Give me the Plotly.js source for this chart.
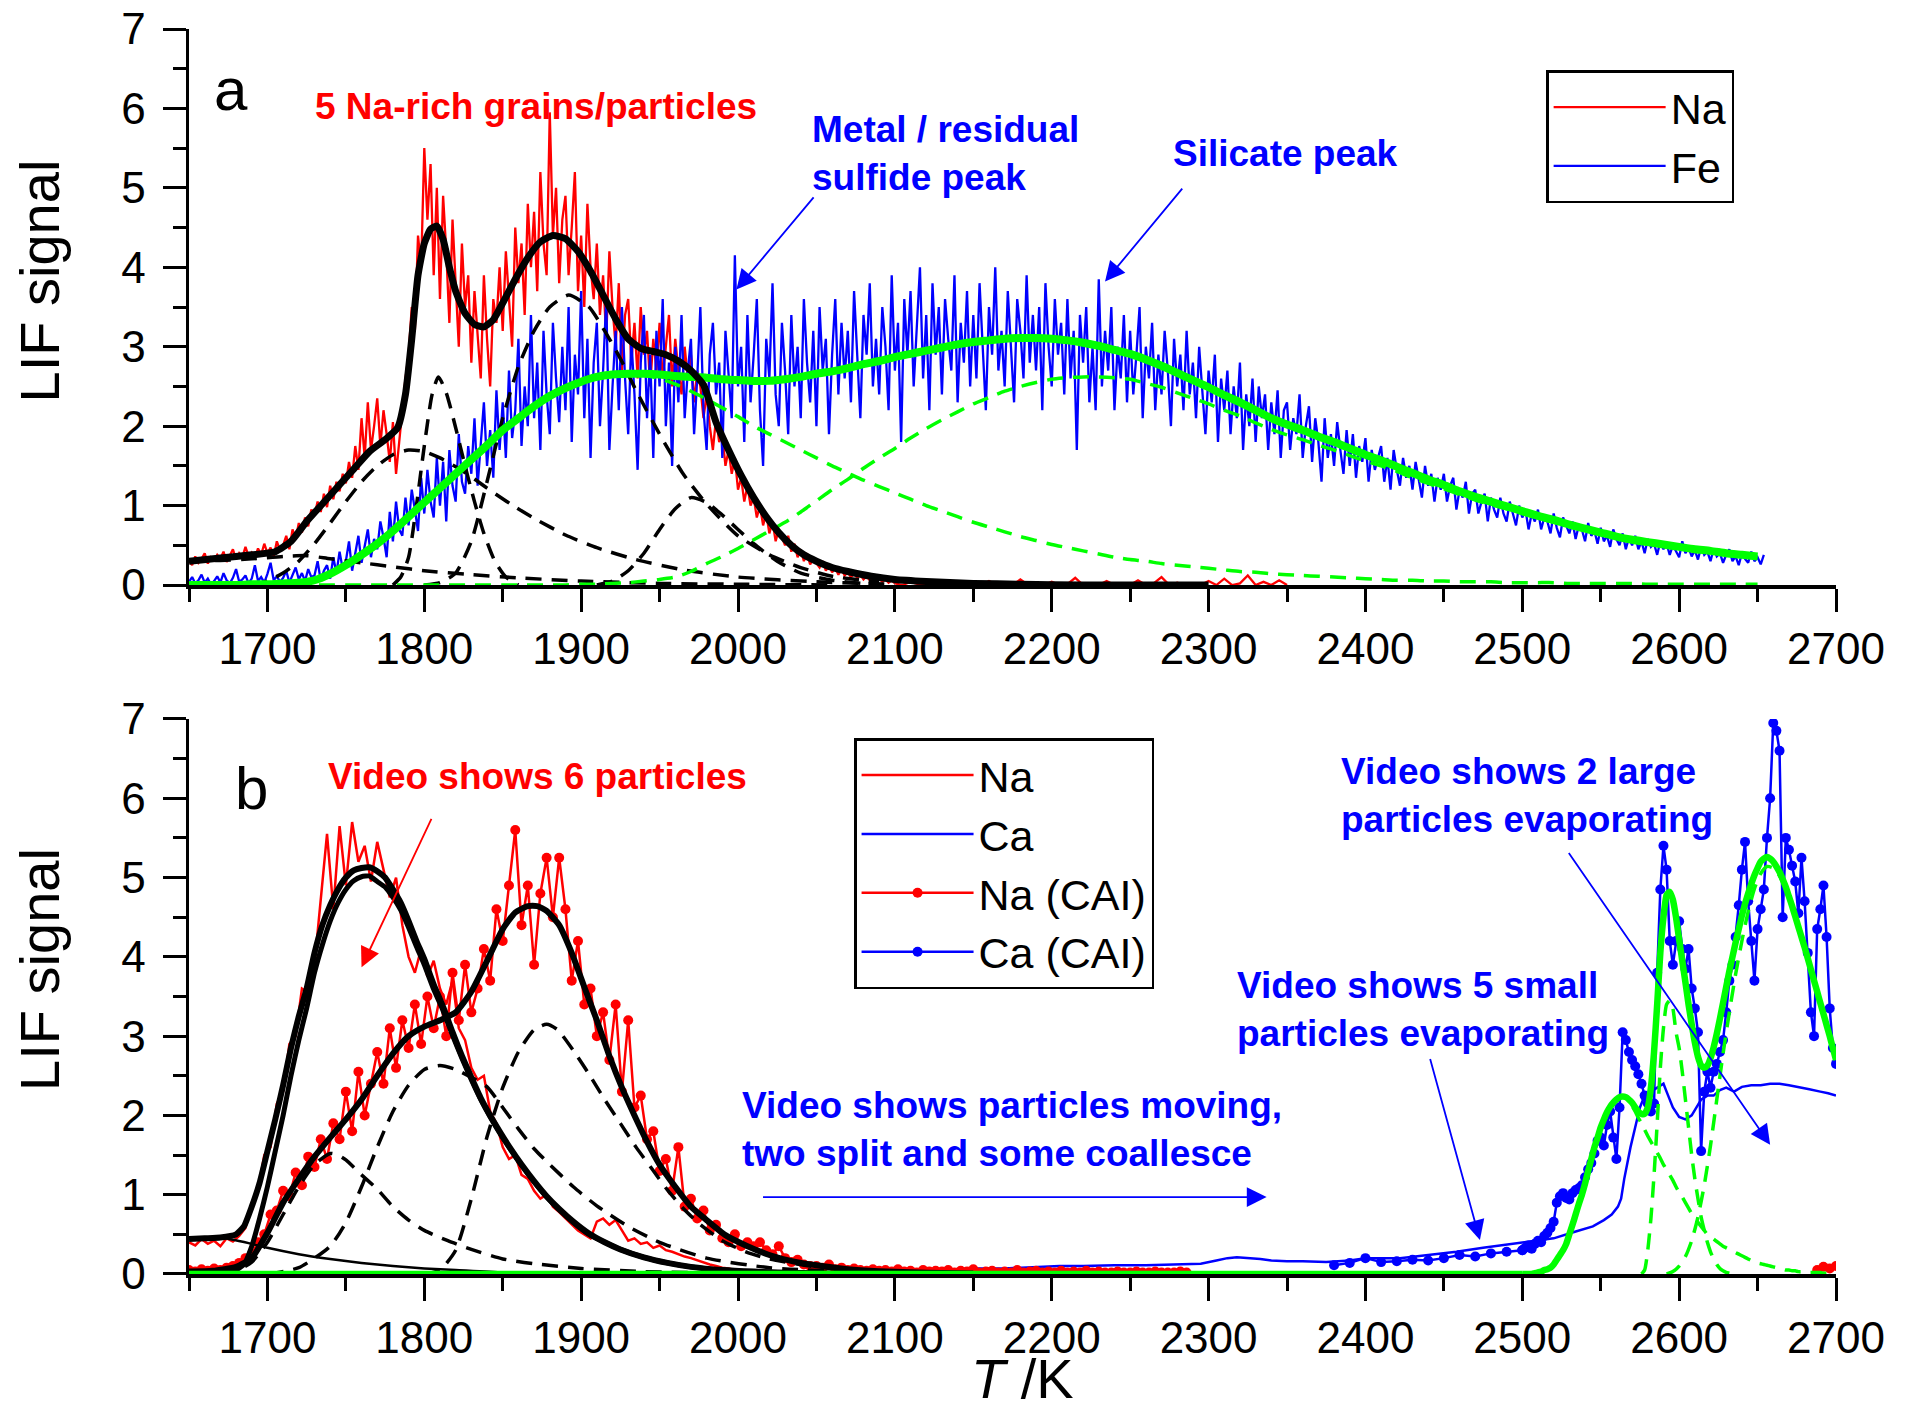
<!DOCTYPE html>
<html>
<head>
<meta charset="utf-8">
<script src="https://cdn.plot.ly/plotly-3.0.1.min.js"></script>
<style>html,body{margin:0;padding:0;background:#fff;}#chart{width:1912px;height:1414px;}</style>
</head>
<body>
<div id="chart"></div>
<script>
// ---------------- DATA (panel a) ----------------
// Na LIF signal, panel a: T starts 1650 K, step 2 K (to 2100 K)
const naA_T0 = 1650, naA_dT = 2;
const naA = [
0.30,0.25,0.36,0.28,0.33,0.40,0.27,0.35,0.31,0.38,
0.33,0.42,0.29,0.37,0.45,0.32,0.40,0.35,0.48,0.36,
0.41,0.34,0.46,0.38,0.52,0.40,0.47,0.36,0.55,0.44,
0.50,0.62,0.45,0.70,0.58,0.78,0.66,0.85,0.74,0.95,
0.88,1.05,0.92,1.15,0.98,1.25,1.08,1.30,1.18,1.40,
1.28,1.55,1.35,1.75,1.45,2.10,1.60,2.30,1.70,2.00,
2.35,1.75,2.20,1.90,1.55,2.05,1.40,1.80,2.25,2.60,
2.90,3.50,3.20,4.40,4.00,5.50,4.60,5.30,3.90,5.00,
3.60,4.90,4.20,3.30,4.60,3.80,3.00,4.30,3.50,3.90,
2.80,3.70,3.20,2.60,3.90,3.10,2.50,3.60,3.30,4.00,
3.20,4.20,3.60,3.00,4.50,3.80,4.30,3.40,4.80,4.00,
4.70,3.70,5.20,4.30,3.90,5.95,4.40,5.00,3.80,4.60,
4.90,3.90,4.50,5.20,3.70,4.40,3.50,4.80,4.00,3.60,
4.30,3.40,3.90,3.10,4.20,3.50,3.00,3.80,2.70,3.40,
3.60,2.80,3.30,2.60,3.50,2.90,3.20,2.50,3.10,2.70,
3.30,2.60,3.00,3.40,2.50,3.10,2.70,2.40,3.00,2.60,
2.90,2.30,2.70,2.50,2.10,2.40,2.00,1.70,2.10,1.80,
1.90,1.50,1.70,1.40,1.60,1.20,1.35,1.05,1.25,1.00,
1.10,0.85,1.00,0.75,0.90,0.65,0.80,0.55,0.70,0.60,
0.50,0.62,0.42,0.52,0.35,0.45,0.30,0.40,0.26,0.33,
0.28,0.22,0.30,0.18,0.25,0.16,0.22,0.13,0.20,0.12,
0.16,0.10,0.14,0.09,0.13,0.07,0.11,0.06,0.10,0.05,
0.08,0.04,0.07,0.03,0.06,0.02];
// Na LIF signal tail, panel a: T starts 2100 K, step 5 K
const naATail_T0 = 2100, naATail_dT = 5;
const naATail = [
0.02,0.00,0.04,0.01,0.00,0.03,0.00,0.06,0.01,0.00,
0.02,0.00,0.05,0.00,0.01,0.00,0.07,0.00,0.02,0.00,
0.04,0.00,0.01,0.09,0.00,0.02,0.00,0.05,0.00,0.01,
0.00,0.06,0.00,0.02,0.10,0.00,0.03,0.00,0.01,0.00,
0.05,0.00,0.08,0.00,0.02,0.12,0.00,0.04,0.00,0.06,
0.00];

// Fe LIF signal, panel a: T starts 1650 K, step 2 K
const feA_T0 = 1650, feA_dT = 2;
const feA = [
0.04,0.10,0.02,0.06,0.13,0.03,0.08,0.01,0.05,0.11,
0.03,0.15,0.06,0.02,0.09,0.20,0.04,0.07,0.12,0.02,
0.08,0.25,0.05,0.10,0.03,0.14,0.28,0.06,0.11,0.04,
0.09,0.18,0.03,0.12,0.22,0.07,0.15,0.05,0.20,0.10,
0.12,0.30,0.05,0.18,0.25,0.08,0.35,0.15,0.42,0.20,
0.30,0.55,0.18,0.40,0.62,0.28,0.48,0.70,0.35,0.58,
0.45,0.80,0.60,0.35,0.92,0.55,1.05,0.70,0.62,1.10,
0.75,1.20,0.95,0.68,1.35,0.90,1.45,1.05,0.85,1.60,
1.00,1.55,0.80,1.70,1.25,1.05,1.90,1.30,1.15,1.75,
1.40,2.10,1.25,1.80,2.30,1.50,1.95,1.35,2.45,1.70,
2.30,1.60,2.70,1.85,2.20,3.10,1.75,2.50,2.00,3.40,
2.10,2.80,1.70,3.20,2.40,1.90,3.30,2.60,2.05,3.00,
2.20,3.50,1.80,2.90,2.40,3.70,2.10,3.10,1.60,2.80,
3.30,2.00,2.70,3.60,1.70,2.50,3.20,2.20,3.50,2.60,
1.90,3.10,2.40,1.45,2.80,3.40,2.10,2.90,1.60,3.20,
2.50,3.60,2.00,2.80,1.50,3.00,2.30,3.40,2.10,2.70,
3.10,1.90,2.60,3.50,2.20,1.70,2.90,3.30,2.40,2.80,
1.60,3.20,2.70,2.10,4.15,2.50,3.00,1.80,3.40,2.30,
2.90,3.60,2.20,1.50,3.10,2.60,3.80,2.40,2.00,3.30,
2.70,1.90,3.40,2.50,3.00,2.10,3.60,2.80,2.30,3.20,
2.00,3.50,2.70,3.10,1.90,2.90,3.60,2.40,3.30,2.60,
3.20,2.30,3.70,2.80,2.10,3.40,2.90,3.80,2.50,3.10,
2.40,3.50,3.00,2.20,3.90,2.70,3.30,1.80,3.60,2.90,
3.70,2.50,3.20,4.00,2.60,3.40,2.20,3.80,2.90,3.50,
2.40,3.60,3.10,2.70,3.90,2.30,3.30,2.80,3.70,2.50,
3.40,2.60,3.80,3.00,2.20,3.50,2.90,4.00,2.70,3.20,
2.50,3.70,3.00,2.30,3.60,3.20,2.60,3.90,2.80,3.40,
2.70,3.50,2.20,3.80,3.00,2.50,3.60,2.90,3.30,2.40,
3.60,2.60,3.20,1.70,3.40,2.80,3.50,2.30,3.00,2.20,
3.85,2.50,3.20,2.70,3.50,2.20,3.00,2.60,3.40,2.30,
3.20,2.40,2.90,3.50,2.10,3.00,2.60,3.30,2.20,2.90,
2.40,3.20,2.70,2.00,3.10,2.50,2.90,2.20,3.20,2.40,
2.80,2.10,3.00,2.40,1.90,2.70,2.30,2.90,1.80,2.60,
2.20,2.70,1.90,2.50,2.10,2.80,1.70,2.40,2.00,2.60,
1.80,2.50,2.10,2.40,1.70,2.30,1.90,2.45,1.60,2.20,
2.30,1.70,2.10,1.90,2.40,1.60,2.00,2.25,1.55,2.10,
1.80,1.30,2.10,1.60,1.90,1.50,2.05,1.70,1.40,1.95,
1.50,1.90,1.35,1.75,1.55,1.85,1.30,1.70,1.45,1.60,
1.75,1.30,1.60,1.20,1.70,1.45,1.25,1.60,1.35,1.50,
1.20,1.55,1.30,1.10,1.50,1.25,1.40,1.05,1.35,1.20,
1.40,1.05,1.25,1.35,0.95,1.20,1.10,1.30,0.90,1.15,
1.20,0.90,1.05,1.15,0.80,1.10,0.95,0.85,1.10,0.90,
0.80,1.05,0.90,0.75,1.00,0.85,0.95,0.70,0.90,0.80,
0.95,0.70,0.85,0.80,0.65,0.90,0.72,0.60,0.85,0.75,
0.65,0.80,0.58,0.75,0.70,0.55,0.78,0.62,0.68,0.52,
0.72,0.55,0.62,0.48,0.70,0.58,0.50,0.65,0.45,0.60,
0.50,0.62,0.45,0.55,0.40,0.58,0.48,0.52,0.38,0.55,
0.45,0.52,0.38,0.50,0.42,0.35,0.55,0.40,0.47,0.36,
0.44,0.32,0.48,0.38,0.42,0.30,0.46,0.36,0.40,0.28,
0.38,0.45,0.30,0.36,0.25,0.40,0.33,0.28,0.42,0.30,
0.35,0.26,0.38];

// Na multi-peak fit (panel a)
const fitA_T = [1650,1670,1690,1705,1715,1725,1735,1745,1755,1765,1775,1783,1788,1792,1796,1800,1804,1808,1812,1816,1820,1826,1832,1838,1844,1850,1858,1866,1874,1882,1890,1898,1906,1914,1922,1930,1938,1946,1954,1962,1970,1978,1986,1994,2002,2010,2018,2026,2034,2042,2050,2060,2070,2085,2100,2120,2150,2180,2220,2300];
const fitA_V = [0.30,0.34,0.38,0.42,0.55,0.80,1.02,1.24,1.46,1.68,1.83,1.98,2.4,3.1,3.9,4.3,4.48,4.52,4.35,4.0,3.7,3.42,3.28,3.25,3.34,3.55,3.85,4.12,4.32,4.40,4.36,4.2,3.95,3.65,3.35,3.1,2.98,2.94,2.9,2.82,2.7,2.52,2.05,1.7,1.38,1.1,0.86,0.66,0.5,0.38,0.3,0.22,0.17,0.11,0.07,0.045,0.02,0.01,0.0,0.0];
// Na fit components (panel a)
const compA0_T = [1650,1670,1690,1710,1725,1740,1760,1780,1800,1830,1860,1900,1950,2000,2060];
const compA0_V = [0.30,0.31,0.33,0.36,0.37,0.33,0.28,0.23,0.18,0.13,0.09,0.05,0.02,0.01,0.0];
const compA1_T = [1690,1700,1710,1720,1730,1740,1750,1760,1770,1780,1790,1800,1810,1825,1840,1855,1870,1890,1910,1935,1965,2000,2050,2100];
const compA1_V = [0.0,0.05,0.15,0.3,0.52,0.78,1.05,1.3,1.5,1.64,1.7,1.68,1.6,1.43,1.22,1.02,0.84,0.63,0.47,0.32,0.19,0.1,0.04,0.01];
const compA2_T = [1780,1785,1790,1795,1800,1805,1809,1814,1820,1826,1832,1838,1845,1852,1860];
const compA2_V = [0.0,0.1,0.35,1.0,1.75,2.4,2.62,2.42,1.98,1.5,1.05,0.65,0.3,0.1,0.0];
const compA3_T = [1800,1810,1820,1830,1840,1850,1860,1870,1880,1892,1905,1915,1925,1935,1950,1965,1980,2000,2020,2040,2060,2090];
const compA3_V = [0.0,0.03,0.15,0.55,1.3,2.1,2.75,3.2,3.5,3.65,3.5,3.2,2.85,2.45,1.9,1.4,1.02,0.62,0.38,0.22,0.11,0.04];
const compA4_T = [1910,1920,1930,1940,1950,1960,1970,1980,1990,2000,2010,2025,2040,2060,2080];
const compA4_V = [0.0,0.05,0.18,0.4,0.7,0.96,1.1,1.04,0.88,0.7,0.52,0.3,0.15,0.06,0.02];

// Fe two-peak fit (panel a): T starts 1650 K, step 10 K
const feFit_T0 = 1650, feFit_dT = 10;
const feFit = [0.0,0.0,0.0,0.0,0.01,0.01,0.02,0.03,0.06,0.14,
0.25,0.38,0.52,0.68,0.86,1.04,1.22,1.40,1.58,1.76,
1.95,2.10,2.25,2.38,2.48,2.56,2.62,2.65,2.66,2.66,
2.65,2.63,2.62,2.61,2.59,2.58,2.57,2.57,2.59,2.62,
2.66,2.69,2.73,2.78,2.82,2.87,2.91,2.95,2.99,3.03,
3.06,3.08,3.10,3.11,3.11,3.10,3.08,3.05,3.01,2.96,
2.91,2.84,2.76,2.67,2.58,2.49,2.39,2.30,2.20,2.10,
2.02,1.95,1.87,1.80,1.72,1.64,1.57,1.49,1.41,1.33,
1.26,1.18,1.11,1.05,0.99,0.93,0.87,0.82,0.76,0.71,
0.66,0.61,0.57,0.54,0.51,0.48,0.45,0.43,0.40,0.38,
0.36];
const feMetal = [0.0,0.0,0.0,0.0,0.01,0.01,0.02,0.03,0.06,0.14,
0.25,0.38,0.52,0.68,0.86,1.04,1.22,1.40,1.58,1.76,
1.95,2.10,2.25,2.38,2.48,2.56,2.61,2.64,2.65,2.64,
2.60,2.53,2.44,2.34,2.23,2.12,2.00,1.90,1.80,1.70,
1.60,1.50,1.41,1.32,1.24,1.16,1.08,1.00,0.93,0.86,
0.79,0.73,0.67,0.61,0.56,0.51,0.47,0.43,0.39,0.35,
0.32,0.30,0.27,0.25,0.23,0.21,0.19,0.17,0.16,0.14,
0.13,0.12,0.11,0.10,0.09,0.08,0.07,0.06,0.06,0.05,
0.05,0.04,0.04,0.04,0.03,0.03,0.03,0.03,0.02,0.02,
0.02,0.02,0.02,0.01,0.01,0.01,0.01,0.01,0.01,0.01,
0.01];
const feSilicate = [0,0,0,0,0,0,0,0,0,0,
0,0,0,0,0,0,0,0,0,0,
0,0,0,0,0,0.01,0.01,0.02,0.03,0.05,
0.07,0.10,0.17,0.27,0.36,0.46,0.57,0.68,0.79,0.92,
1.06,1.20,1.33,1.47,1.60,1.72,1.85,1.97,2.08,2.18,
2.28,2.36,2.44,2.50,2.55,2.59,2.61,2.62,2.62,2.61,
2.59,2.54,2.49,2.42,2.35,2.28,2.20,2.13,2.04,1.96,
1.89,1.83,1.76,1.70,1.63,1.56,1.50,1.43,1.35,1.28,
1.21,1.14,1.07,1.01,0.96,0.90,0.84,0.79,0.74,0.69,
0.64,0.59,0.55,0.53,0.50,0.47,0.44,0.42,0.39,0.37,
0.35];

// ---------------- DATA (panel b) ----------------
const naB_T0 = 1650, naB_dT = 4;
const naB = [
0.40,0.36,0.44,0.38,0.42,0.35,0.45,0.41,0.48,0.58,
0.90,1.05,1.50,1.60,2.15,2.30,2.90,3.00,3.60,3.55,
3.90,4.70,5.55,4.60,5.65,4.90,5.70,5.20,5.40,4.95,
5.45,5.10,4.75,5.00,4.40,4.00,3.80,4.10,3.75,3.95,
3.60,3.40,3.70,3.10,2.95,2.60,2.45,2.50,2.05,1.90,
1.60,1.45,1.50,1.25,1.20,1.05,0.95,1.00,0.85,0.78,
0.70,0.62,0.55,0.50,0.45,0.66,0.70,0.62,0.68,0.55,
0.42,0.45,0.38,0.40,0.33,0.36,0.30,0.28,0.25,0.22,
0.20,0.17,0.15,0.12,0.10,0.08,0.07,0.05,0.04];

const naCai_T0 = 1650, naCai_dT = 4;
const naCai = [
0.05,0.03,0.06,0.04,0.07,0.05,0.08,0.10,0.14,0.20,
0.25,0.40,0.50,0.75,0.80,1.05,0.98,1.28,1.12,1.48,
1.35,1.70,1.45,1.90,1.70,2.30,1.80,2.55,2.00,2.40,
2.80,2.40,3.10,2.60,3.20,2.85,3.40,2.90,3.50,3.10,
3.50,3.00,3.80,3.20,3.90,3.30,3.60,4.10,3.70,4.60,
4.20,4.90,5.60,4.40,4.90,3.90,4.80,5.25,4.50,5.25,
4.60,3.70,4.20,3.40,3.60,3.00,3.30,2.70,3.40,2.30,
3.20,2.10,2.25,1.70,1.80,1.30,1.45,1.05,1.60,0.85,
0.95,0.70,0.80,0.55,0.62,0.45,0.40,0.50,0.35,0.40,
0.35,0.40,0.30,0.25,0.35,0.20,0.15,0.18,0.12,0.10,
0.10,0.08,0.12,0.06,0.08,0.05,0.07,0.05,0.04,0.06,
0.04,0.05,0.03,0.06,0.03,0.04,0.02,0.05,0.03,0.04,
0.03,0.05,0.02,0.04,0.03,0.06,0.02,0.03,0.04,0.02,
0.03,0.02,0.05,0.02,0.03,0.04,0.02,0.03,0.02,0.04,
0.02,0.03,0.02,0.04,0.02,0.03,0.02,0.02,0.03,0.02,
0.02,0.03,0.02,0.02,0.03,0.02,0.02,0.02,0.03,0.02];
const naCaiEnd_T = [2688,2692,2696,2700];
const naCaiEnd_V = [0.05,0.09,0.07,0.10];

const caB_T = [2130,2150,2170,2190,2205,2220,2240,2260,2280,2295,2305,2312,2318,2325,2333,2340,2350,2360,2375,2390,2400,2410,2422,2440,2458,2475,2495,2510,2520,2533,2545,2552,2557,2561,2563,2565,2567,2569,2572,2575,2578,2582,2586,2590,2593,2596,2600,2604,2608,2611,2614,2618,2622,2626,2630,2635,2640,2646,2652,2658,2664,2670,2676,2683,2690,2695,2700];
const caB_V = [0.05,0.07,0.07,0.09,0.1,0.1,0.11,0.11,0.12,0.13,0.17,0.2,0.21,0.2,0.19,0.17,0.16,0.16,0.15,0.17,0.2,0.2,0.2,0.24,0.28,0.33,0.38,0.42,0.45,0.53,0.6,0.68,0.75,0.85,0.95,1.2,1.4,1.6,1.85,2.1,2.25,2.3,2.35,2.4,2.25,2.1,1.98,1.95,2.0,2.1,2.2,2.25,2.25,2.32,2.35,2.3,2.36,2.38,2.38,2.4,2.4,2.38,2.36,2.33,2.3,2.28,2.25];

const caCaiLow_T0 = 2380, caCaiLow_dT = 10;
const caCaiLow = [0.11,0.14,0.20,0.15,0.16,0.18,0.17,0.20,0.24,0.22,0.26,0.28,0.30];
const caCai_T0 = 2500, caCai_dT = 2;
const caCai = [
0.30,0.33,0.36,0.32,0.38,0.42,0.40,0.48,0.52,0.58,
0.66,0.90,0.98,1.02,0.96,0.94,1.02,1.06,1.08,1.12,
1.22,1.32,1.40,1.52,1.68,1.72,1.62,1.88,2.05,1.72,
1.45,2.10,3.05,2.95,2.80,2.70,2.62,2.52,2.40,2.25,
2.15,2.05,2.15,3.80,4.85,5.40,5.10,4.20,3.90,4.20,
4.45,4.10,3.85,4.10,3.60,3.35,3.05,1.55,2.30,2.55,
2.35,2.55,2.65,2.80,2.95,3.30,3.70,3.90,4.25,4.65,
5.10,5.45,4.70,4.20,3.70,4.35,4.60,4.85,5.50,6.00,
6.95,6.85,6.60,4.50,5.50,5.35,5.15,4.95,4.55,5.25,
4.70,4.05,3.30,3.00,4.35,4.60,4.90,4.25,3.35,2.85,
2.65];

// Na fits (panel b)
const fitB1_T = [1650,1660,1670,1680,1685,1690,1695,1700,1705,1710,1715,1720,1725,1730,1735,1740,1745,1750,1755,1760,1765,1770,1775,1780,1785,1790,1795,1800,1806,1812,1818,1824,1830,1836,1842,1848,1855,1862,1870,1878,1886,1895,1905,1915,1925,1940,1955,1970,1990,2010,2040,2080,2130];
const fitB1_V = [0.44,0.45,0.46,0.5,0.6,0.85,1.15,1.55,1.95,2.38,2.85,3.25,3.6,4.05,4.4,4.65,4.85,5.0,5.09,5.12,5.13,5.08,5.0,4.85,4.68,4.45,4.2,3.97,3.65,3.37,3.05,2.75,2.48,2.22,2.0,1.8,1.58,1.38,1.17,0.98,0.82,0.66,0.51,0.4,0.31,0.21,0.14,0.09,0.05,0.03,0.012,0.004,0.0];
const compB1_T = [1670,1680,1685,1690,1695,1700,1705,1710,1715,1720,1725,1730,1735,1740,1745,1750,1755,1760,1765,1770,1775,1780,1785,1790,1795,1800,1806,1812,1818,1824,1830,1836,1842,1848,1855,1862,1870,1878,1886,1895,1905,1915,1925,1940,1955,1970,1990,2010,2040,2080,2130];
const compB1_V = [0.0,0.05,0.12,0.35,0.7,1.1,1.55,2.0,2.5,2.95,3.35,3.8,4.15,4.45,4.68,4.85,4.96,5.01,5.02,4.95,4.88,4.75,4.59,4.37,4.13,3.9,3.59,3.32,3.01,2.72,2.45,2.2,1.98,1.78,1.57,1.37,1.16,0.97,0.81,0.65,0.5,0.4,0.31,0.21,0.14,0.09,0.05,0.03,0.012,0.004,0.0];
const baseB_T = [1650,1670,1690,1700,1720,1740,1760,1780,1800,1820,1850,1880,1950,2000];
const baseB_V = [0.44,0.46,0.38,0.33,0.25,0.19,0.14,0.1,0.07,0.05,0.02,0.01,0.0,0.0];
const fitB2_T = [1650,1665,1680,1690,1700,1710,1720,1730,1740,1750,1760,1770,1780,1790,1800,1810,1820,1830,1840,1850,1858,1866,1872,1878,1886,1894,1902,1910,1918,1926,1934,1942,1950,1960,1970,1980,1992,2005,2020,2035,2050,2070,2090,2120,2150];
const fitB2_V = [0.03,0.04,0.09,0.2,0.52,0.9,1.2,1.48,1.72,1.95,2.2,2.5,2.78,3.0,3.12,3.2,3.3,3.56,3.95,4.35,4.56,4.64,4.64,4.58,4.4,4.05,3.62,3.2,2.75,2.35,2.0,1.67,1.38,1.1,0.85,0.68,0.49,0.36,0.24,0.16,0.11,0.06,0.035,0.015,0.005];
const compB2a_T = [1670,1680,1690,1700,1710,1720,1730,1740,1745,1750,1760,1770,1780,1790,1800,1815,1830,1850,1870,1900,1940,2000,2080];
const compB2a_V = [0.0,0.04,0.15,0.4,0.75,1.1,1.38,1.52,1.5,1.44,1.25,1.07,0.85,0.68,0.55,0.42,0.31,0.19,0.13,0.07,0.03,0.01,0.0];
const compB2b_T = [1700,1720,1740,1750,1760,1770,1780,1790,1800,1810,1820,1830,1840,1850,1860,1870,1880,1895,1910,1930,1950,1980,2020,2080];
const compB2b_V = [0.0,0.08,0.35,0.65,1.1,1.6,2.05,2.38,2.58,2.63,2.58,2.48,2.36,2.1,1.83,1.58,1.38,1.1,0.86,0.6,0.4,0.2,0.08,0.02];
const compB2c_T = [1800,1810,1820,1830,1840,1850,1860,1870,1878,1885,1895,1905,1915,1925,1935,1945,1955,1965,1975,1990,2005,2020,2050,2090,2140];
const compB2c_V = [0.0,0.05,0.3,0.95,1.73,2.35,2.8,3.08,3.15,3.08,2.82,2.52,2.2,1.9,1.6,1.33,1.06,0.83,0.64,0.42,0.28,0.19,0.09,0.03,0.0];

// Ca (CAI) fit (panel b): T starts 2500 K, step 2 K
const caFitZero_T = [1650,2500];
const caFitZero_V = [0,0];
const caFit_T0 = 2500, caFit_dT = 2;
const caFit = [
0.0,0.0,0.0,0.0,0.01,0.02,0.03,0.05,0.06,0.08,
0.12,0.18,0.24,0.30,0.38,0.50,0.62,0.75,0.88,1.00,
1.14,1.30,1.45,1.60,1.72,1.85,1.95,2.04,2.11,2.16,
2.20,2.23,2.24,2.23,2.20,2.16,2.10,2.05,2.02,2.02,
2.10,2.35,2.80,3.40,4.05,4.50,4.78,4.82,4.72,4.50,
4.22,3.95,3.68,3.40,3.15,2.92,2.74,2.63,2.60,2.63,
2.72,2.86,3.03,3.22,3.42,3.62,3.82,4.00,4.18,4.35,
4.52,4.67,4.80,4.92,5.03,5.12,5.20,5.24,5.26,5.24,
5.20,5.14,5.07,4.98,4.88,4.76,4.64,4.51,4.38,4.25,
4.12,3.98,3.84,3.70,3.56,3.42,3.28,3.14,3.00,2.85,
2.70];
const caComp1 = [
0.0,0.0,0.0,0.0,0.01,0.02,0.03,0.05,0.06,0.08,
0.12,0.18,0.24,0.30,0.38,0.50,0.62,0.75,0.88,1.00,
1.14,1.30,1.45,1.60,1.72,1.85,1.95,2.04,2.11,2.16,
2.20,2.23,2.24,2.22,2.18,2.12,2.05,1.97,1.90,1.82,
1.74,1.67,1.60,1.53,1.46,1.38,1.32,1.25,1.18,1.10,
1.03,0.97,0.90,0.83,0.76,0.70,0.65,0.60,0.55,0.50,
0.47,0.44,0.41,0.38,0.35,0.33,0.31,0.29,0.27,0.25,
0.23,0.21,0.19,0.17,0.16,0.14,0.13,0.12,0.11,0.10,
0.09,0.08,0.07,0.06,0.05,0.05,0.04,0.04,0.03,0.03,
0.03,0.02,0.02,0.02,0.02,0.02,0.01,0.01,0.01,0.01,
0.01];
const caComp2_T0 = 2576, caComp2_dT = 2;
const caComp2 = [0.0,0.05,0.3,0.7,1.25,1.9,2.6,3.1,3.4,3.45,3.35,3.05,2.85,2.55,2.2,1.85,1.5,1.2,0.95,0.72,0.55,0.4,0.28,0.19,0.12,0.07,0.04,0.02,0.01,0.0];
const caComp3_T0 = 2592, caComp3_dT = 4;
const caComp3 = [0.0,0.03,0.1,0.22,0.42,0.72,1.12,1.62,2.2,2.78,3.3,3.78,4.2,4.57,4.86,5.05,5.14,5.12,5.02,4.85,4.63,4.38,4.1,3.82,3.54,3.26,2.98,2.7];

// ---------------- STYLE ----------------
const FONT = 'Liberation Sans, Arial, Helvetica, sans-serif';
const RED = '#ff0000', BLUE = '#0000ff', GREEN = '#00ff00', BLACK = '#000000';
const DASH = '16px,10px';

function tr(o){ return Object.assign({type:'scatter', mode:'lines', hoverinfo:'skip', showlegend:false}, o); }

const traces = [
  // panel a
  tr({x0:naA_T0, dx:naA_dT, y:naA, xaxis:'x', yaxis:'y', name:'Na', showlegend:true, legend:'legend', legendgroup:'naA', line:{color:RED, width:2.3}}),
  tr({x0:naATail_T0, dx:naATail_dT, y:naATail, xaxis:'x', yaxis:'y', legendgroup:'naA', line:{color:RED, width:2.3}}),
  tr({x0:feA_T0, dx:feA_dT, y:feA, xaxis:'x', yaxis:'y', name:'Fe', showlegend:true, legend:'legend', line:{color:BLUE, width:2.3}}),
  tr({x:compA0_T, y:compA0_V, xaxis:'x', yaxis:'y', line:{color:BLACK, width:3.5, dash:DASH, shape:'spline', smoothing:0.6}}),
  tr({x:compA1_T, y:compA1_V, xaxis:'x', yaxis:'y', line:{color:BLACK, width:3.5, dash:DASH, shape:'spline', smoothing:0.6}}),
  tr({x:compA2_T, y:compA2_V, xaxis:'x', yaxis:'y', line:{color:BLACK, width:3.5, dash:DASH, shape:'spline', smoothing:0.6}}),
  tr({x:compA3_T, y:compA3_V, xaxis:'x', yaxis:'y', line:{color:BLACK, width:3.5, dash:DASH, shape:'spline', smoothing:0.6}}),
  tr({x:compA4_T, y:compA4_V, xaxis:'x', yaxis:'y', line:{color:BLACK, width:3.5, dash:DASH, shape:'spline', smoothing:0.6}}),
  tr({x0:feFit_T0, dx:feFit_dT, y:feMetal, xaxis:'x', yaxis:'y', line:{color:GREEN, width:3.5, dash:DASH, shape:'spline', smoothing:0.6}}),
  tr({x0:feFit_T0, dx:feFit_dT, y:feSilicate, xaxis:'x', yaxis:'y', line:{color:GREEN, width:3.5, dash:DASH, shape:'spline', smoothing:0.6}}),
  tr({x0:feFit_T0, dx:feFit_dT, y:feFit, xaxis:'x', yaxis:'y', line:{color:GREEN, width:8, shape:'spline', smoothing:0.6}}),
  tr({x:fitA_T, y:fitA_V, xaxis:'x', yaxis:'y', line:{color:BLACK, width:7, shape:'spline', smoothing:0.5}}),

  // panel b
  tr({x0:naB_T0, dx:naB_dT, y:naB, xaxis:'x2', yaxis:'y2', name:'Na', showlegend:true, legend:'legend2', legendrank:1, line:{color:RED, width:2.5}}),
  tr({x:caB_T, y:caB_V, xaxis:'x2', yaxis:'y2', name:'Ca', showlegend:true, legend:'legend2', legendrank:2, line:{color:BLUE, width:2.5}}),
  tr({x0:naCai_T0, dx:naCai_dT, y:naCai, xaxis:'x2', yaxis:'y2', name:'Na (CAI)', showlegend:true, legend:'legend2', legendrank:3, mode:'lines+markers', line:{color:RED, width:2.5}, marker:{color:RED, size:10}}),
  tr({x:naCaiEnd_T, y:naCaiEnd_V, xaxis:'x2', yaxis:'y2', mode:'lines+markers', line:{color:RED, width:2.5}, marker:{color:RED, size:10}}),
  tr({x0:caCaiLow_T0, dx:caCaiLow_dT, y:caCaiLow, xaxis:'x2', yaxis:'y2', mode:'lines+markers', line:{color:BLUE, width:2.5}, marker:{color:BLUE, size:10}}),
  tr({x0:caCai_T0, dx:caCai_dT, y:caCai, xaxis:'x2', yaxis:'y2', name:'Ca (CAI)', showlegend:true, legend:'legend2', legendrank:4, mode:'lines+markers', line:{color:BLUE, width:2.5}, marker:{color:BLUE, size:10}}),
  tr({x:compB2a_T, y:compB2a_V, xaxis:'x2', yaxis:'y2', line:{color:BLACK, width:3.5, dash:DASH, shape:'spline', smoothing:0.6}}),
  tr({x:compB2b_T, y:compB2b_V, xaxis:'x2', yaxis:'y2', line:{color:BLACK, width:3.5, dash:DASH, shape:'spline', smoothing:0.6}}),
  tr({x:compB2c_T, y:compB2c_V, xaxis:'x2', yaxis:'y2', line:{color:BLACK, width:3.5, dash:DASH, shape:'spline', smoothing:0.6}}),
  tr({x0:caFit_T0, dx:caFit_dT, y:caComp1, xaxis:'x2', yaxis:'y2', line:{color:GREEN, width:3.5, dash:DASH, shape:'spline', smoothing:0.6}}),
  tr({x0:caComp2_T0, dx:caComp2_dT, y:caComp2, xaxis:'x2', yaxis:'y2', line:{color:GREEN, width:3.5, dash:DASH, shape:'spline', smoothing:0.6}}),
  tr({x0:caComp3_T0, dx:caComp3_dT, y:caComp3, xaxis:'x2', yaxis:'y2', line:{color:GREEN, width:3.5, dash:DASH, shape:'spline', smoothing:0.6}}),
  tr({x:baseB_T, y:baseB_V, xaxis:'x2', yaxis:'y2', line:{color:BLACK, width:2.5, shape:'spline', smoothing:0.6}}),
  tr({x:compB1_T, y:compB1_V, xaxis:'x2', yaxis:'y2', line:{color:BLACK, width:5, shape:'spline', smoothing:0.5}}),
  tr({x:fitB1_T, y:fitB1_V, xaxis:'x2', yaxis:'y2', line:{color:BLACK, width:6, shape:'spline', smoothing:0.5}}),
  tr({x:fitB2_T, y:fitB2_V, xaxis:'x2', yaxis:'y2', line:{color:BLACK, width:6, shape:'spline', smoothing:0.5}}),
  tr({x:caFitZero_T, y:caFitZero_V, xaxis:'x2', yaxis:'y2', line:{color:GREEN, width:6.5}}),
  tr({x0:caFit_T0, dx:caFit_dT, y:caFit, xaxis:'x2', yaxis:'y2', line:{color:GREEN, width:6.5, shape:'spline', smoothing:0.5}})
];

const tickFont = {family:FONT, size:44, color:BLACK};
function xAx(extra){
  return Object.assign({range:[1650,2700], autorange:false, showgrid:false, zeroline:false,
    showline:true, linecolor:BLACK, linewidth:3.5, ticks:'outside', ticklen:23, tickwidth:3, tickcolor:BLACK,
    tick0:0, dtick:100, tickfont:tickFont, ticklabelstandoff:0,
    minor:{ticks:'outside', ticklen:13, tickwidth:3, tickcolor:BLACK, tick0:0, dtick:50, showgrid:false}}, extra);
}
function yAx(extra){
  return Object.assign({range:[0,7], autorange:false, showgrid:false, zeroline:false,
    showline:true, linecolor:BLACK, linewidth:3.5, ticks:'outside', ticklen:23, tickwidth:3, tickcolor:BLACK,
    tick0:0, dtick:1, tickfont:tickFont, ticklabelstandoff:8,
    minor:{ticks:'outside', ticklen:13, tickwidth:3, tickcolor:BLACK, tick0:0, dtick:0.5, showgrid:false}}, extra);
}
function mirrorX(over, anchor){
  return {overlaying:over, anchor:anchor, side:'top', range:[1650,2700], autorange:false, showgrid:false, zeroline:false,
    showline:true, linecolor:BLACK, linewidth:3.5, ticks:'inside', ticklen:23, tickwidth:3, tickcolor:BLACK,
    tick0:0, dtick:100, showticklabels:false,
    minor:{ticks:'inside', ticklen:13, tickwidth:3, tickcolor:BLACK, tick0:0, dtick:50, showgrid:false}};
}
function mirrorY(over, anchor){
  return {overlaying:over, anchor:anchor, side:'right', range:[0,7], autorange:false, showgrid:false, zeroline:false,
    showline:true, linecolor:BLACK, linewidth:3.5, ticks:'inside', ticklen:23, tickwidth:3, tickcolor:BLACK,
    tick0:0, dtick:1, showticklabels:false,
    minor:{ticks:'inside', ticklen:13, tickwidth:3, tickcolor:BLACK, tick0:0, dtick:0.5, showgrid:false}};
}

function label(x, y, xr, yr, text, color, size, left){
  return {x:x, y:y, xref:xr, yref:yr, text:text, showarrow:false,
    xanchor: left ? 'left' : 'center', yanchor:'middle', align: left ? 'left' : 'center',
    font:{family:FONT, size:size, color:color}};
}
function arrow(x, y, ax, ay, xr, yr, color){
  return {x:x, y:y, ax:ax, ay:ay, xref:xr, yref:yr, axref:xr, ayref:yr, text:'', showarrow:true,
    arrowhead:2, arrowsize:2.2, arrowwidth:1.8, arrowcolor:color, standoff:0, startstandoff:0};
}
function axisTitle(x, y, text, angle, size){
  return {x:x, y:y, xref:'paper', yref:'paper', text:text, showarrow:false, textangle:angle,
    xanchor:'center', yanchor:'middle', font:{family:FONT, size:size, color:BLACK}};
}

const legendBase = {xanchor:'left', yanchor:'top', bgcolor:'#ffffff', bordercolor:BLACK, borderwidth:2.5,
  font:{family:FONT, size:43, color:BLACK}, itemwidth:112, tracegroupgap:0, traceorder:'normal'};

const layout = {
  width:1912, height:1414,
  margin:{l:189, r:76, t:29, b:140, pad:0},
  paper_bgcolor:'#ffffff', plot_bgcolor:'#ffffff',
  font:{family:FONT, color:BLACK},
  xaxis: xAx({anchor:'y', domain:[0,1]}),
  yaxis: yAx({anchor:'x', domain:[0.5534,1]}),
  xaxis2: xAx({anchor:'y2', domain:[0,1]}),
  yaxis2: yAx({anchor:'x2', domain:[0,0.4458]}),
  xaxis3: mirrorX('x','y'),
  yaxis3: mirrorY('y','x'),
  xaxis4: mirrorX('x2','y2'),
  yaxis4: mirrorY('y2','x2'),
  legend: Object.assign({x:0.824, y:0.967}, legendBase),
  legend2: Object.assign({x:0.4038, y:0.4305}, legendBase),
  annotations: [
    axisTitle(-0.0905, 0.798, 'LIF signal', -90, 56),
    axisTitle(-0.0905, 0.245, 'LIF signal', -90, 56),
    axisTitle(0.506, -0.084, '<i>T</i> /K', 0, 56),
    label(1677, 6.24, 'x', 'y', 'a', BLACK, 60, false),
    label(1871, 6.03, 'x', 'y', '<b>5 Na-rich grains/particles</b>', RED, 37, false),
    label(2046, 5.43, 'x', 'y', '<b>Metal / residual<br>sulfide peak</b>', BLUE, 37, true),
    label(2276, 5.43, 'x', 'y', '<b>Silicate peak</b>', BLUE, 37, true),
    arrow(1999, 3.72, 2049, 4.9, 'x', 'y', BLUE),
    arrow(2234, 3.82, 2284, 5.01, 'x', 'y', BLUE),
    label(1690, 6.12, 'x2', 'y2', 'b', BLACK, 60, false),
    label(1872, 6.28, 'x2', 'y2', '<b>Video shows 6 particles</b>', RED, 37, false),
    label(2001, 1.82, 'x2', 'y2', '<b>Video shows particles moving,<br>two split and some coallesce</b>', BLUE, 37, true),
    label(2317, 3.34, 'x2', 'y2', '<b>Video shows 5 small<br>particles evaporating</b>', BLUE, 37, true),
    label(2383, 6.03, 'x2', 'y2', '<b>Video shows 2 large<br>particles evaporating</b>', BLUE, 37, true),
    arrow(1760, 3.87, 1805, 5.76, 'x2', 'y2', RED),
    arrow(2337, 0.97, 2015, 0.97, 'x2', 'y2', BLUE),
    arrow(2473, 0.43, 2441, 2.73, 'x2', 'y2', BLUE),
    arrow(2658, 1.63, 2529, 5.33, 'x2', 'y2', BLUE)
  ]
};

Plotly.newPlot('chart', traces, layout, {displayModeBar:false, staticPlot:true});
</script>
</body>
</html>
